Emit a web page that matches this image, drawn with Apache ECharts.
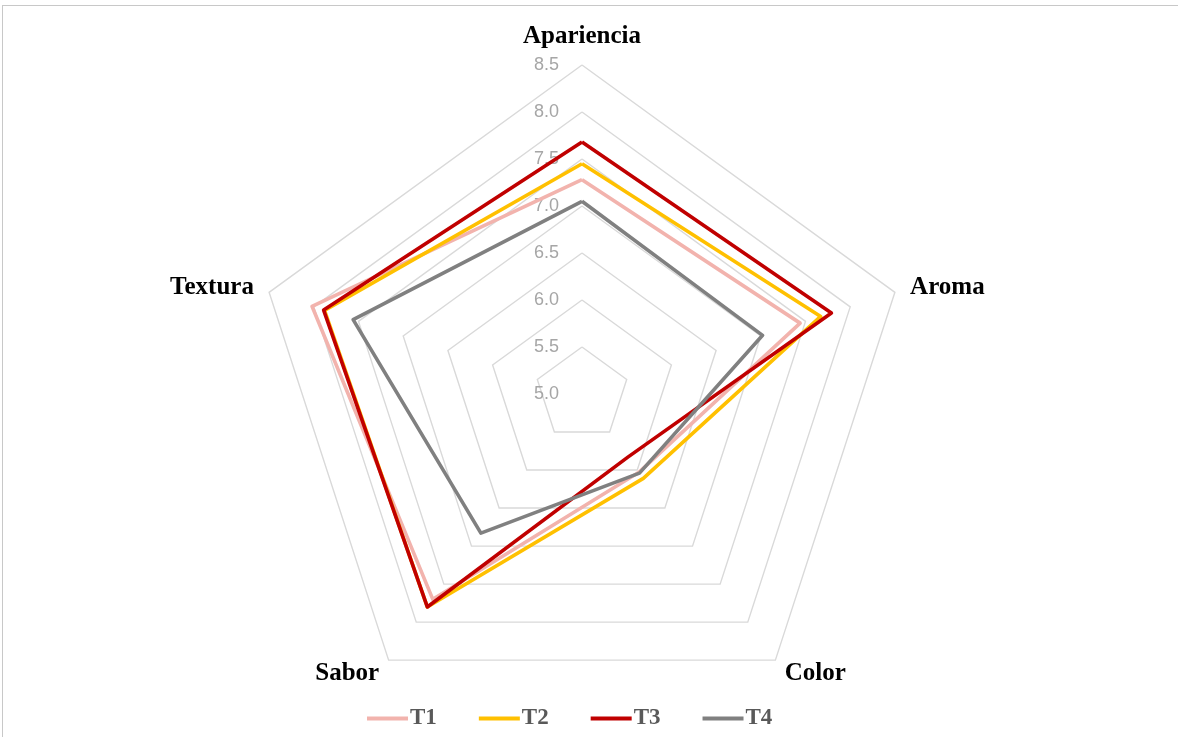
<!DOCTYPE html>
<html>
<head>
<meta charset="utf-8">
<script src="https://cdn.jsdelivr.net/npm/echarts@6/dist/echarts.min.js"></script>
<style>
  html, body { margin: 0; padding: 0; background: #ffffff; }
  #frame { position: absolute; left: 2px; top: 5px; width: 1200px; height: 760px; border: 1px solid #c8c8c8; box-sizing: border-box; }
  #chart { position: absolute; left: 0; top: 0; width: 1178px; height: 737px; }
</style>
</head>
<body>
<div id="frame"></div>
<div id="chart"></div>
<script>
// Attributes, listed clockwise starting at the top
const categories = ['Apariencia', 'Aroma', 'Color', 'Sabor', 'Textura'];
const seriesNames = ['T1', 'T2', 'T3', 'T4'];
const t1 = [7.28, 7.44, 6.03, 7.70, 8.02];
const t2 = [7.45, 7.67, 6.11, 7.80, 7.88];
const t3 = [7.68, 7.79, 5.83, 7.80, 7.89];
const t4 = [7.05, 7.02, 6.04, 6.83, 7.56];
const axisMin = 5.0;
const axisMax = 8.5;
const axisSteps = 7;
const colors = ['#f2b3ad', '#ffc000', '#c00000', '#808080'];

// ECharts lays radar indicators out counter-clockwise; reorder so they run clockwise
const order = [0, 4, 3, 2, 1];
const toRadarOrder = arr => order.map(i => arr[i]);

const indicator = toRadarOrder(categories).map((name, i) => ({
  name: name,
  min: axisMin,
  max: axisMax,
  axisLabel: i === 0 ? {
    show: true,
    color: '#a6a6a6',
    fontFamily: 'Liberation Sans',
    fontSize: 18,
    margin: 23,
    formatter: v => v.toFixed(1)
  } : { show: false }
}));

const chart = echarts.init(document.getElementById('chart'), null, { renderer: 'canvas' });
chart.setOption({
  backgroundColor: 'transparent',
  animation: false,
  color: colors,
  legend: {
    data: seriesNames,
    left: 362,
    top: 702,
    icon: 'rect',
    itemWidth: 41,
    itemHeight: 4,
    itemGap: 42,
    textStyle: {
      color: '#595959',
      fontFamily: 'Liberation Serif',
      fontWeight: 'bold',
      fontSize: 23,
      padding: [0, 0, 0, -3]
    }
  },
  radar: {
    center: [582, 394],
    radius: 329,
    shape: 'polygon',
    splitNumber: axisSteps,
    nameGap: 16,
    axisName: {
      color: '#000000',
      fontFamily: 'Liberation Serif',
      fontWeight: 'bold',
      fontSize: 25
    },
    axisLine: { show: false },
    axisTick: { show: false },
    splitArea: { show: false },
    splitLine: { lineStyle: { color: '#d9d9d9', width: 1.4 } },
    indicator: indicator
  },
  series: [{
    type: 'radar',
    symbol: 'none',
    lineStyle: { width: 3.6 },
    data: [t1, t2, t3, t4].map((vals, i) => ({
      name: seriesNames[i],
      value: toRadarOrder(vals),
      lineStyle: { color: colors[i], width: 3.6 },
      itemStyle: { color: colors[i] }
    }))
  }]
});
</script>
</body>
</html>
